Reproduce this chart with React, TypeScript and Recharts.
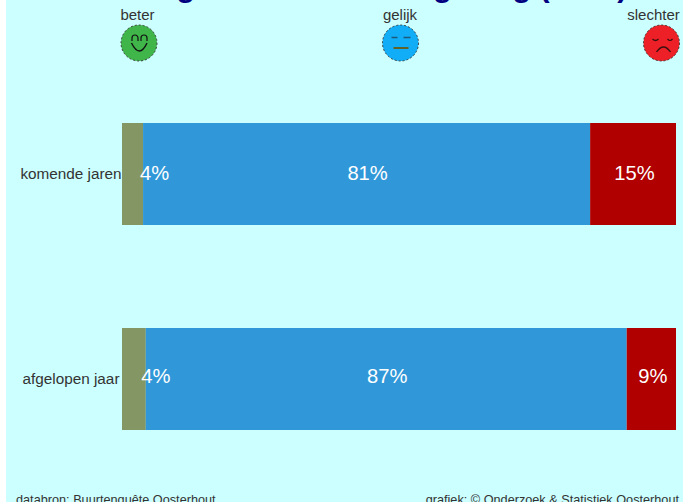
import { BarChart, Bar, XAxis, YAxis, LabelList } from "recharts";

const categories = ["komende jaren", "afgelopen jaar"];
const beter = [3.8, 4.3];
const gelijk = [80.7, 86.8];
const slechter = [15.5, 8.9];
const beterLabels = ["4%", "4%"];
const gelijkLabels = ["81%", "87%"];
const slechterLabels = ["15%", "9%"];

const titleText = "Ontwikkeling van de woonomgeving (2020)";
const sourceText = "databron: Buurtenquête Oosterhout";
const creditText = "grafiek: © Onderzoek & Statistiek Oosterhout";

const chartData = categories.map((name, i) => ({
  name,
  beter: beter[i],
  gelijk: gelijk[i],
  slechter: slechter[i],
}));

const OFFSET_X = 6; // the picture starts a few px from the page edge
const FONT = "Liberation Sans, Arial, sans-serif";
const ROW_NUDGE = [0.5, -1.5];

function CategoryTick({ y, payload }: any) {
  return (
    <text x={71 - OFFSET_X} y={y + 5.5} textAnchor="middle" fontSize={15.3} fontFamily={FONT} fill="#333333">
      {payload.value}
    </text>
  );
}

function segmentLabel(labels: string[], shift: number) {
  return ({ x, y, width, height, index }: any) => (
    <text
      x={x + width / 2 + shift}
      y={y + height / 2 + ROW_NUDGE[index]}
      textAnchor="middle"
      dominantBaseline="middle"
      fontSize={20.2}
      fontFamily={FONT}
      fill="#ffffff"
    >
      {labels[index]}
    </text>
  );
}

function Face({ x, labelX, label, fill, mood }: { x: number; labelX: number; label: string; fill: string; mood: "up" | "flat" | "down" }) {
  const cy = 43;
  return (
    <g>
      <text x={labelX - OFFSET_X} y={20} textAnchor="middle" fontSize={15} fontFamily={FONT} fill="#333333">
        {label}
      </text>
      <g transform={`translate(${x - OFFSET_X}, ${cy})`}>
        <circle r={18} fill={fill} stroke="#333333" strokeWidth={0.9} strokeDasharray="2 2" />
        {mood === "up" && (
          <g fill="none" stroke="#111111" strokeWidth={1.2}>
            <path d="M-7 -2 v-3 a3 3 0 0 1 6 0 v3" />
            <path d="M2 -2 v-3 a3 3 0 0 1 6 0 v3" />
            <path d="M-7.5 0 q8 16 15.5 0" strokeWidth={1.4} />
          </g>
        )}
        {mood === "flat" && (
          <g fill="none">
            <path d="M-9 -5.5 h6 M3 -5.5 h7" stroke="#1c5a7a" strokeWidth={1.4} />
            <path d="M-7 5 h15" stroke="#6b5a10" strokeWidth={1.8} />
          </g>
        )}
        {mood === "down" && (
          <g fill="none" stroke="#3a1010" strokeWidth={1.2}>
            <path d="M-9 -4 q3 3 6 0 M6 -4 q2.5 3 5 0" />
            <path d="M-5 9 q7 -10 14 0" strokeWidth={1.3} />
          </g>
        )}
      </g>
    </g>
  );
}

export default function App() {
  return (
    <div style={{ position: "absolute", left: OFFSET_X, top: 0, width: 677, height: 502, background: "#CCFFFF", overflow: "hidden" }}>
      <BarChart
        width={677}
        height={502}
        data={chartData}
        layout="vertical"
        margin={{ top: 71, right: 7, bottom: 21, left: 0 }}
      >
        <XAxis type="number" domain={[0, 100]} hide />
        <YAxis
          type="category"
          dataKey="name"
          width={116}
          axisLine={false}
          tickLine={false}
          tick={<CategoryTick />}
          interval={0}
        />
        <Bar dataKey="beter" stackId="a" fill="#839663" barSize={102} isAnimationActive={false}>
          <LabelList dataKey="beter" content={segmentLabel(beterLabels, 22)} />
        </Bar>
        <Bar dataKey="gelijk" stackId="a" fill="#3098D8" barSize={102} isAnimationActive={false}>
          <LabelList dataKey="gelijk" content={segmentLabel(gelijkLabels, 1)} />
        </Bar>
        <Bar dataKey="slechter" stackId="a" fill="#B00000" barSize={102} isAnimationActive={false}>
          <LabelList dataKey="slechter" content={segmentLabel(slechterLabels, 1.5)} />
        </Bar>

        <text x={0} y={-3.5} fontSize={30.4} fontWeight="bold" fontFamily={FONT} fill="#000080">
          {titleText}
        </text>
        <Face x={139} labelX={137.5} label="beter" fill="#3FB54A" mood="up" />
        <Face x={400.5} labelX={400} label="gelijk" fill="#12ADF7" mood="flat" />
        <Face x={661.5} labelX={653.5} label="slechter" fill="#EE2027" mood="down" />
        <text x={16 - OFFSET_X} y={504} fontSize={12.7} fontFamily={FONT} fill="#333333">
          {sourceText}
        </text>
        <text x={679 - OFFSET_X} y={504} textAnchor="end" fontSize={12.7} fontFamily={FONT} fill="#333333">
          {creditText}
        </text>
      </BarChart>
    </div>
  );
}
